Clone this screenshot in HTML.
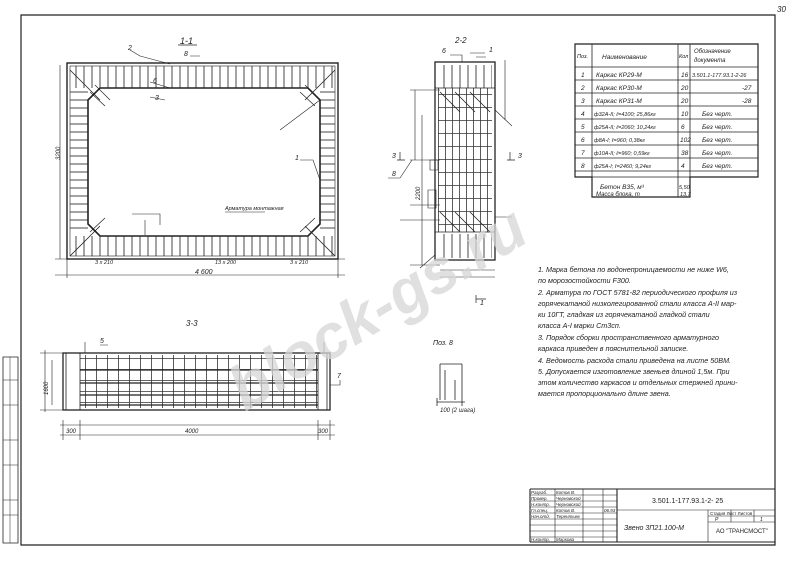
<!DOCTYPE html>
<html><head><meta charset="utf-8"><style>
html,body{margin:0;padding:0;background:#fff;width:800px;height:567px;overflow:hidden}
svg{display:block}
text{font-family:"Liberation Sans",sans-serif;font-style:italic;fill:#222}
</style></head><body>
<svg width="800" height="567" viewBox="0 0 800 567" xmlns="http://www.w3.org/2000/svg">
<defs>
<pattern id="vl8" width="8" height="10" patternUnits="userSpaceOnUse"><line x1="4" y1="0" x2="4" y2="10" stroke="#333" stroke-width="0.9"/></pattern>
<pattern id="hl8" width="10" height="8" patternUnits="userSpaceOnUse"><line x1="0" y1="4" x2="10" y2="4" stroke="#333" stroke-width="0.9"/></pattern>
<pattern id="g22" x="435" y="88" width="7" height="13" patternUnits="userSpaceOnUse"><path d="M3.5 0V13M0 6.5H7" stroke="#333" stroke-width="0.8" fill="none"/></pattern>
<pattern id="g33" x="80" y="353" width="11" height="11" patternUnits="userSpaceOnUse"><path d="M5.5 0V11M0 5.5H11" stroke="#333" stroke-width="0.8" fill="none"/></pattern>
</defs>
<g stroke="#222" fill="none">
<path d="M21 15H775V545H21Z" stroke-width="1.2"/>
<path d="M3 357H18V543H3Z" stroke-width="0.8"/>
<path d="M3 380H18M3 405H18M3 440H18M3 465H18M3 500H18M3 515H18" stroke-width="0.6"/>
<path d="M10 357V543" stroke-width="0.5"/>

<rect x="67" y="63" width="271" height="196" stroke-width="1.4"/>
<rect x="70" y="66" width="265" height="190" stroke-width="0.6"/>
<rect x="75" y="66" width="258" height="22" fill="url(#vl8)" stroke="none"/>
<rect x="75" y="236" width="258" height="20" fill="url(#vl8)" stroke="none"/>
<rect x="70" y="90" width="18" height="144" fill="url(#hl8)" stroke="none"/>
<rect x="320" y="90" width="15" height="144" fill="url(#hl8)" stroke="none"/>
<path d="M100 88H308L320 100V224L308 236H100L88 224V100Z" stroke-width="1.6"/>
<path d="M70 70L100 100M335 70L305 100M70 256L100 226M335 256L305 226" stroke-width="0.8"/>
<path d="M95 85L110 100M90 92L105 106M300 92L315 106M305 85L320 100M90 232L105 218M300 232L315 218" stroke-width="0.7"/>
<path d="M130 50L140 56L170 64M150 82L170 88M150 97L165 100M280 130L320 100M300 160L313 160L320 180M225 212L265 212M132 214L160 214L160 225M145 220V235M60 65V259M55 259H345M55 275H345M67 259V278M338 259V278M190 56H200" stroke-width="0.6"/>
<path d="M178 45H197" stroke-width="0.7"/>

<rect x="435" y="62" width="60" height="198" stroke-width="1.3"/>
<rect x="438" y="88" width="54" height="144" fill="url(#g22)" stroke="none"/>
<rect x="438" y="65" width="54" height="23" fill="url(#vl8)" stroke="none"/>
<rect x="438" y="234" width="54" height="24" fill="url(#vl8)" stroke="none"/>
<path d="M435 88H495M435 232H495M440 92L460 112M455 92L475 112M470 92L490 112M440 212L460 232M455 212L475 232M470 212L490 232" stroke-width="0.8"/>
<path d="M415 90V160M422 115V265M410 90H440M410 160H440M410 205H440M410 265H440M505 60V120M440 270H495M440 277H495M400 220H440M450 55H462V62M470 53H485M495 110L512 126M495 217L512 217M420 268L435 255" stroke-width="0.6"/>
<path d="M412 160L400 178H388M476 57H486" stroke-width="0.6"/>
<path d="M430 160h8v10h-8zM428 190h8v18h-8z" stroke-width="0.6"/>
<path d="M400 152v8M397 160h8M510 152v8M507 160h8M476 295v8M476 299h10" stroke-width="0.7"/>

<rect x="63" y="353" width="267" height="57" stroke-width="1.3"/>
<rect x="80" y="355" width="238" height="53" fill="url(#g33)" stroke="none"/>
<path d="M80 353V410M318 353V410M66 353V410M327 353V410" stroke-width="0.8"/>
<path d="M80 370H318M80 383H318M80 395H318M80 405H318" stroke-width="1.2"/>
<path d="M45 350V412M52 360V405M40 353H63M40 410H63M60 425H335M60 435H335M63 420V440M80 420V440M318 420V440M330 420V440M330 385H340V380M85 342V353M324 342V353M100 345H108" stroke-width="0.6"/>

<path d="M440 364H462M440 364V400M445 370V400M455 380V400M462 364V402M437 402H465M437 398V406M462 400V406" stroke-width="0.8"/>

<path d="M575 44H758V177H690V197H592V177H575Z" stroke-width="1.2"/>
<path d="M575 67H758M575 80H758M575 93H758M575 106H758M575 119H758M575 132H758M575 145H758M575 158H758M575 171H758M592 177H690M592 44V197M678 44V197M690 44V177" stroke-width="0.8"/>

<path d="M530 489H775M530 542H775M530 489V542M617 489V542" stroke-width="1.1"/>
<path d="M555 489V542M583 489V542M603 489V542M530 495H617M530 501H617M530 507H617M530 513H617M530 519H617M530 525H617M530 531H617M530 537H617M617 510H775M708 510V542M708 516H775M708 522H775M731 510V522M754 510V522" stroke-width="0.6"/>
</g>

<g font-size="7">
<text x="777" y="12" font-size="8">30</text>
<text x="180" y="44" font-size="9">1-1</text>
<text x="128" y="50">2</text>
<text x="184" y="56">8</text>
<text x="153" y="83">6</text>
<text x="155" y="100">3</text>
<text x="295" y="160">1</text>
<text x="225" y="210" font-size="5.5">Арматура монтажная</text>
<text x="195" y="274" font-size="7">4 600</text>
<text x="215" y="264" font-size="5.5">13 x 200</text>
<text x="95" y="264" font-size="5.5">3 x 210</text>
<text x="290" y="264" font-size="5.5">3 x 210</text>
<text x="60" y="160" font-size="6" transform="rotate(-90 60 160)">3200</text>
<text x="455" y="43" font-size="8">2-2</text>
<text x="442" y="53">6</text>
<text x="489" y="52">1</text>
<text x="392" y="158">3</text>
<text x="518" y="158">3</text>
<text x="392" y="176">8</text>
<text x="480" y="305">1</text>
<text x="420" y="200" font-size="6" transform="rotate(-90 420 200)">2200</text>
<text x="186" y="326" font-size="8">3-3</text>
<text x="100" y="343">5</text>
<text x="337" y="378">7</text>
<text x="185" y="433" font-size="6">4000</text>
<text x="66" y="433" font-size="6">300</text>
<text x="318" y="433" font-size="6">300</text>
<text x="48" y="395" font-size="6" transform="rotate(-90 48 395)">1600</text>
<text x="433" y="345">Поз. 8</text>
<text x="440" y="412" font-size="6">100 (2 шага)</text>
</g>

<g font-size="6.5">
<text x="577" y="58" font-size="5.5">Поз.</text>
<text x="602" y="59">Наименование</text>
<text x="679" y="58" font-size="5.5">Кол</text>
<text x="694" y="53" font-size="6">Обозначение</text>
<text x="694" y="62" font-size="6">документа</text>
<text x="581" y="77">1</text><text x="596" y="77">Каркас КР29-М</text><text x="681" y="77">16</text><text x="692" y="77" font-size="5.5">3.501.1-177.93.1-2-26</text>
<text x="581" y="90">2</text><text x="596" y="90">Каркас КР30-М</text><text x="681" y="90">20</text><text x="742" y="90">-27</text>
<text x="581" y="103">3</text><text x="596" y="103">Каркас КР31-М</text><text x="681" y="103">20</text><text x="742" y="103">-28</text>
<text x="581" y="116">4</text><text x="594" y="116" font-size="5.5">ф32А-II; ℓ=4100; 25,86кг</text><text x="681" y="116">10</text><text x="702" y="116">Без черт.</text>
<text x="581" y="129">5</text><text x="594" y="129" font-size="5.5">ф25А-II; ℓ=2060; 10,24кг</text><text x="681" y="129">6</text><text x="702" y="129">Без черт.</text>
<text x="581" y="142">6</text><text x="594" y="142" font-size="5.5">ф8А-I; ℓ=960; 0,38кг</text><text x="680" y="142">102</text><text x="702" y="142">Без черт.</text>
<text x="581" y="155">7</text><text x="594" y="155" font-size="5.5">ф10А-II; ℓ=960; 0,59кг</text><text x="681" y="155">38</text><text x="702" y="155">Без черт.</text>
<text x="581" y="168">8</text><text x="594" y="168" font-size="5.5">ф25А-I; ℓ=2460; 9,24кг</text><text x="681" y="168">4</text><text x="702" y="168">Без черт.</text>
<text x="600" y="189">Бетон В35, м³</text><text x="679" y="189" font-size="5.5">5,50</text>
<text x="596" y="196" font-size="6">Масса блока, т</text><text x="680" y="196" font-size="5.5">13,7</text>
</g>

<g font-size="7.2">
<text x="538" y="272">1.  Марка бетона по водонепроницаемости не ниже W6,</text>
<text x="538" y="283">по морозостойкости F300.</text>
<text x="538" y="295">2.  Арматура по ГОСТ 5781-82 периодического профиля из</text>
<text x="538" y="306">горячекатаной низколегированной стали класса А-II мар-</text>
<text x="538" y="317">ки 10ГТ, гладкая из горячекатаной гладкой стали</text>
<text x="538" y="328">класса А-I марки Ст3сп.</text>
<text x="538" y="340">3.  Порядок сборки пространственного арматурного</text>
<text x="538" y="351">каркаса приведен в пояснительной записке.</text>
<text x="538" y="363">4.  Ведомость расхода стали приведена на листе 50ВМ.</text>
<text x="538" y="374">5. Допускается изготовление звеньев длиной 1,5м. При</text>
<text x="538" y="385">этом количество каркасов и отдельных стержней прини-</text>
<text x="538" y="396">мается пропорционально длине звена.</text>
</g>

<g font-size="4.5">
<text x="531" y="494">Разраб.</text><text x="556" y="494">Котов В.</text>
<text x="531" y="500">Провер.</text><text x="556" y="500">Черновской</text>
<text x="531" y="506">Н.контр.</text><text x="556" y="506">Черновской</text>
<text x="531" y="512">Гл.спец.</text><text x="556" y="512">Котов В.</text>
<text x="531" y="518">Нач.отд.</text><text x="556" y="518">Терентьев</text>
<text x="531" y="541">Н.контр.</text><text x="556" y="541">Маркова</text>
<text x="604" y="512">06.93</text>
</g>
<text x="652" y="503" font-size="7" style="font-style:normal">3.501.1-177.93.1-2- 25</text>
<text x="624" y="530" font-size="7">Звено  3П21.100-М</text>
<text x="710" y="515" font-size="4.5" style="font-style:normal">Стадия  Лист  Листов</text>
<text x="715" y="521" font-size="5">Р</text><text x="760" y="521" font-size="5">1</text>
<text x="716" y="533" font-size="6" style="font-style:normal">АО "ТРАНСМОСТ"</text>

<text x="0" y="0" font-size="62" font-weight="bold" style="font-style:italic;fill:#d6d6d6;opacity:0.75" transform="translate(245,412) rotate(-31)">block-gs.ru</text>
</svg>
</body></html>
